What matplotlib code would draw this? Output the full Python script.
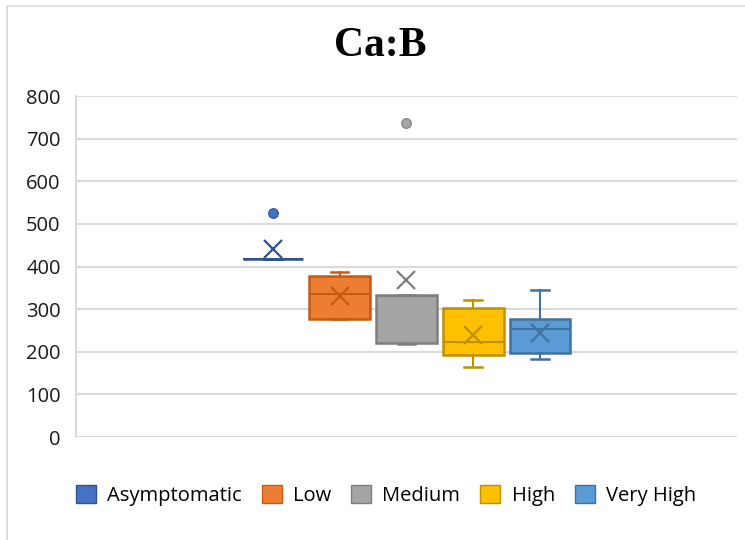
import matplotlib
matplotlib.use("Agg")
import matplotlib.pyplot as plt
from matplotlib.patches import Patch, Rectangle

# Ca:B ratio by severity group
categories = ["Asymptomatic", "Low", "Medium", "High", "Very High"]
q1 = [417, 277, 221, 192, 196]
median = [417, 335, 330, 224, 253]
q3 = [417, 378, 333, 302, 276]
whisker_low = [417, 277, 219, 165, 182]
whisker_high = [417, 388, 333, 321, 346]
means = [440, 330, 368, 239, 243]
outliers = [[525], [], [737], [], []]

face_colors = ["#4472C4", "#ED7D31", "#A5A5A5", "#FFC000", "#5B9BD5"]
edge_colors = ["#2F528F", "#C55A11", "#7F7F7F", "#BF9000", "#41719C"]
y_ticks = [0, 100, 200, 300, 400, 500, 600, 700, 800]

fig = plt.figure(figsize=(7.45, 5.4), dpi=100)
ax = fig.add_axes([0.102, 0.1907, 0.887, 0.6315])

# chart-area frame
fig.add_artist(Rectangle((7 / 745, -0.05), 1.2, 1.05 - 6 / 540,
                         transform=fig.transFigure, fill=False,
                         edgecolor="#D9D9D9", linewidth=1.2))

positions = [i - 2 for i in range(len(categories))]
for i, cat in enumerate(categories):
    stats = [dict(label=cat, q1=q1[i], med=median[i], q3=q3[i],
                  whislo=whisker_low[i], whishi=whisker_high[i],
                  mean=means[i], fliers=outliers[i])]
    ec = edge_colors[i]
    fc = face_colors[i]
    ax.bxp(stats, positions=[positions[i]], widths=0.91, patch_artist=True,
           showmeans=True, showfliers=True,
           boxprops=dict(facecolor=fc, edgecolor=ec, linewidth=1.8),
           medianprops=dict(color=ec, linewidth=1.5),
           whiskerprops=dict(color=ec, linewidth=1.5),
           capprops=dict(color=ec, linewidth=1.8),
           capwidths=0.26,
           meanprops=dict(marker="x", markeredgecolor=ec, markersize=13,
                          markeredgewidth=1.6),
           flierprops=dict(marker="o", markerfacecolor=fc, markeredgecolor=ec,
                           markersize=7, markeredgewidth=0.8),
           zorder=3)

ax.set_xlim(-4.95, 4.95)
ax.set_ylim(0, 800)
ax.set_yticks(y_ticks)
ax.set_yticklabels([str(v) for v in y_ticks], fontsize=14.5,
                   family="Open Sans", color="#1a1a1a")
ax.set_xticks([])
ax.tick_params(axis="y", length=0, pad=11)
ax.yaxis.grid(True, color="#D9D9D9", linewidth=1.5, zorder=0)
ax.set_axisbelow(True)
for side in ["top", "right", "bottom"]:
    ax.spines[side].set_visible(False)
ax.spines["left"].set_color("#D9D9D9")
ax.spines["left"].set_linewidth(1.5)

fig.text(0.511, 0.915, "Ca:B", ha="center", va="center",
         fontsize=30, fontweight="bold", family="Liberation Serif")

handles = [Patch(facecolor=face_colors[i], edgecolor=edge_colors[i],
                 linewidth=1, label=categories[i]) for i in range(len(categories))]
fig.legend(handles=handles, loc="center", bbox_to_anchor=(0.518, 0.083),
           ncol=5, frameon=False, handlelength=1.0, handleheight=1.0,
           handletextpad=0.55, columnspacing=1.0,
           prop=dict(family="Open Sans", size=14.5))

fig.savefig("out.png", dpi=100)
